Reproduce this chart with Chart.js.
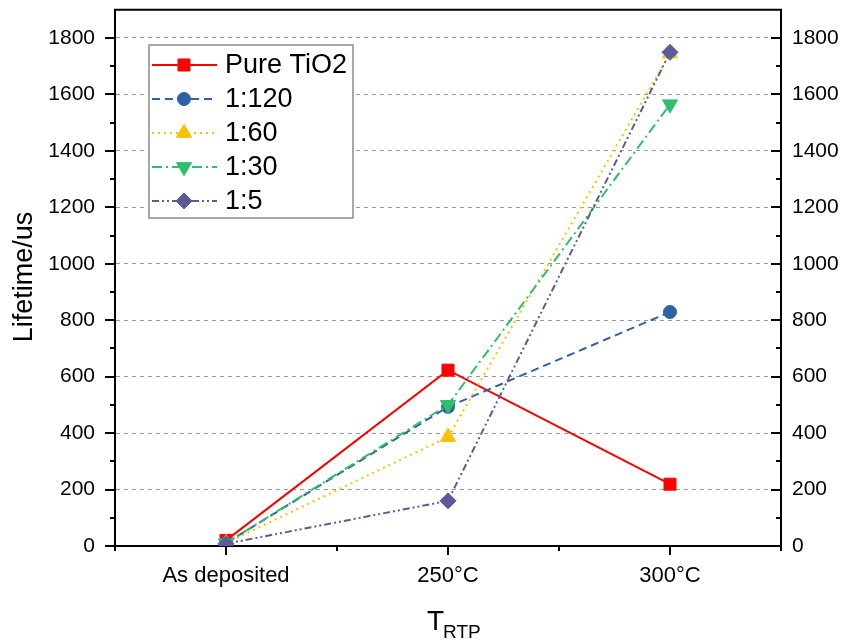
<!DOCTYPE html>
<html>
<head>
<meta charset="utf-8">
<script src="https://cdn.jsdelivr.net/npm/chart.js@4.4.0/dist/chart.umd.min.js"></script>
<style>
  html, body { margin: 0; padding: 0; background: #fff; }
  #wrap { position: relative; width: 846px; height: 639px; }
</style>
</head>
<body>
<div id="wrap"><canvas id="lifeCanvas"></canvas></div>
<script>
// Dữ liệu
const categories = ["As deposited", "250°C", "300°C"];
const seriesNames = ["Pure TiO2", "1:120", "1:60", "1:30", "1:5"];
const pureTiO2 = [20, 623, 219];
const ratio120 = [10, 493, 829];
const ratio60 = [10, 386, 1745];
const ratio30 = [10, 500, 1565];
const ratio5 = [8, 160, 1749];
const yMajorTicks = [0, 200, 400, 600, 800, 1000, 1200, 1400, 1600, 1800];

const seriesValues = [pureTiO2, ratio120, ratio60, ratio30, ratio5];

// Kiểu đường và điểm cho từng chuỗi
const styles = [
  { color: "#ff0000", dash: [], point: "rect", radius: 8.5, rot: 0 },
  { color: "#2e61a5", dash: [8, 5], point: "circle", radius: 6.5, rot: 0 },
  { color: "#ffc000", dash: [2, 4], point: "triangle", radius: 8.7, rot: 0 },
  { color: "#2ebf6e", dash: [10, 4, 2, 4], point: "triangle", radius: 8.7, rot: 180 },
  { color: "#5b5b9c", dash: [7, 3, 2, 3, 2, 3], point: "rectRot", radius: 8, rot: 0 }
];

const FONT = "'Liberation Sans', Arial, sans-serif";

const datasets = seriesNames.map((name, i) => ({
  label: name,
  data: seriesValues[i],
  borderColor: styles[i].color,
  backgroundColor: styles[i].color,
  borderWidth: 2,
  borderDash: styles[i].dash,
  pointStyle: styles[i].point,
  pointRadius: styles[i].radius,
  pointRotation: styles[i].rot,
  pointBorderWidth: 1,
  pointBorderColor: styles[i].color,
  pointBackgroundColor: styles[i].color,
  tension: 0,
  order: seriesNames.length - i
}));

// Cố định kích thước trục để vùng vẽ khớp hình gốc
function fixWidth(w) {
  return (s) => {
    s.width = w;
    s.paddingTop = 0;
    s.paddingBottom = 0;
  };
}

// Vẽ vạch chia, khung trên, chú thích và tiêu đề trục
const extrasPlugin = {
  id: "extras",
  afterDraw(chart) {
    const ctx = chart.ctx;
    const area = chart.chartArea;
    const sx = chart.scales.x;
    const sy = chart.scales.y;
    ctx.save();
    ctx.strokeStyle = "#000";
    ctx.lineWidth = 2;
    ctx.setLineDash([]);

    // khung trên
    ctx.beginPath();
    ctx.moveTo(area.left - 1, area.top);
    ctx.lineTo(area.right + 1, area.top);
    ctx.stroke();

    // vạch trục y (trái ra ngoài, phải vào trong)
    for (let v = 0; v <= 1800; v += 100) {
      const y = Math.round(sy.getPixelForValue(v));
      const len = v % 200 === 0 ? 10 : 5;
      ctx.beginPath();
      ctx.moveTo(area.left - len, y);
      ctx.lineTo(area.left, y);
      ctx.moveTo(area.right - len, y);
      ctx.lineTo(area.right, y);
      ctx.stroke();
    }

    // vạch trục x
    const n = categories.length;
    for (let i = 0; i < n; i++) {
      const x = Math.round(sx.getPixelForValue(i));
      ctx.beginPath();
      ctx.moveTo(x, area.bottom);
      ctx.lineTo(x, area.bottom + 9);
      ctx.stroke();
    }
    for (let i = 0; i <= n; i++) {
      const x = Math.round(sx.getPixelForValue(i - 0.5));
      ctx.beginPath();
      ctx.moveTo(x, area.bottom);
      ctx.lineTo(x, area.bottom + 5);
      ctx.stroke();
    }

    // chú thích
    const box = { left: 149, top: 45, right: 353, bottom: 218 };
    ctx.fillStyle = "#fff";
    ctx.fillRect(box.left, box.top, box.right - box.left, box.bottom - box.top);
    ctx.strokeStyle = "#8c8c8c";
    ctx.lineWidth = 1.5;
    ctx.strokeRect(box.left, box.top, box.right - box.left, box.bottom - box.top);
    seriesNames.forEach((name, i) => {
      const y = 65 + i * 34;
      const st = styles[i];
      ctx.strokeStyle = st.color;
      ctx.fillStyle = st.color;
      ctx.lineWidth = 2;
      ctx.setLineDash(st.dash);
      ctx.beginPath();
      ctx.moveTo(152, y);
      ctx.lineTo(217, y);
      ctx.stroke();
      ctx.setLineDash([]);
      ctx.lineWidth = 1;
      Chart.helpers.drawPoint(ctx, {
        pointStyle: st.point, rotation: st.rot, radius: st.radius, borderWidth: 1
      }, 184, y);
      ctx.fillStyle = "#000";
      ctx.font = "27px " + FONT;
      ctx.textAlign = "left";
      ctx.textBaseline = "middle";
      ctx.fillText(name, 225, y + 1);
    });

    // tiêu đề trục y
    ctx.fillStyle = "#000";
    ctx.save();
    ctx.translate(24, 277);
    ctx.rotate(-Math.PI / 2);
    ctx.font = "27px " + FONT;
    ctx.textAlign = "center";
    ctx.textBaseline = "middle";
    ctx.fillText("Lifetime/us", 0, 1);
    ctx.restore();

    // tiêu đề trục x: T_RTP
    ctx.textAlign = "left";
    ctx.textBaseline = "alphabetic";
    ctx.font = "28px " + FONT;
    ctx.fillText("T", 427, 630);
    ctx.font = "19px " + FONT;
    ctx.fillText("RTP", 443, 638);
    ctx.restore();
  }
};

const ctx = document.getElementById("lifeCanvas").getContext("2d");
window.myLineChart = new Chart(ctx, {
  type: "line",
  data: { labels: categories, datasets: datasets },
  options: {
    responsive: true,
    maintainAspectRatio: false,
    animation: false,
    layout: { padding: { top: 9, left: 0, right: 0, bottom: 0 } },
    plugins: {
      legend: { display: false },
      tooltip: { enabled: false }
    },
    scales: {
      x: {
        type: "category",
        offset: true,
        grid: { display: false, drawTicks: false },
        border: { display: true, color: "#000", width: 2 },
        ticks: {
          color: "#000",
          font: { family: FONT, size: 22 },
          padding: 17,
          maxRotation: 0,
          autoSkip: false
        },
        afterFit: (s) => { s.height = 93; }
      },
      y: {
        position: "left",
        min: 0,
        max: 1900,
        afterBuildTicks: (s) => { s.ticks = yMajorTicks.map(v => ({ value: v })); },
        grid: {
          drawTicks: false,
          color: (c) => (c.tick && c.tick.value > 0 ? "#9a9a9a" : "rgba(0,0,0,0)"),
          lineWidth: 1
        },
        border: { display: true, color: "#000", width: 2, dash: [4, 4] },
        ticks: {
          color: "#000",
          font: { family: FONT, size: 21 },
          padding: 20,
          callback: (v) => String(v)
        },
        afterFit: fixWidth(115)
      },
      y2: {
        position: "right",
        min: 0,
        max: 1900,
        afterBuildTicks: (s) => { s.ticks = yMajorTicks.map(v => ({ value: v })); },
        grid: { display: false, drawTicks: false },
        border: { display: true, color: "#000", width: 2 },
        ticks: {
          color: "#000",
          font: { family: FONT, size: 21 },
          padding: 11,
          callback: (v) => String(v)
        },
        afterFit: fixWidth(65)
      }
    }
  },
  plugins: [extrasPlugin]
});
</script>
</body>
</html>
